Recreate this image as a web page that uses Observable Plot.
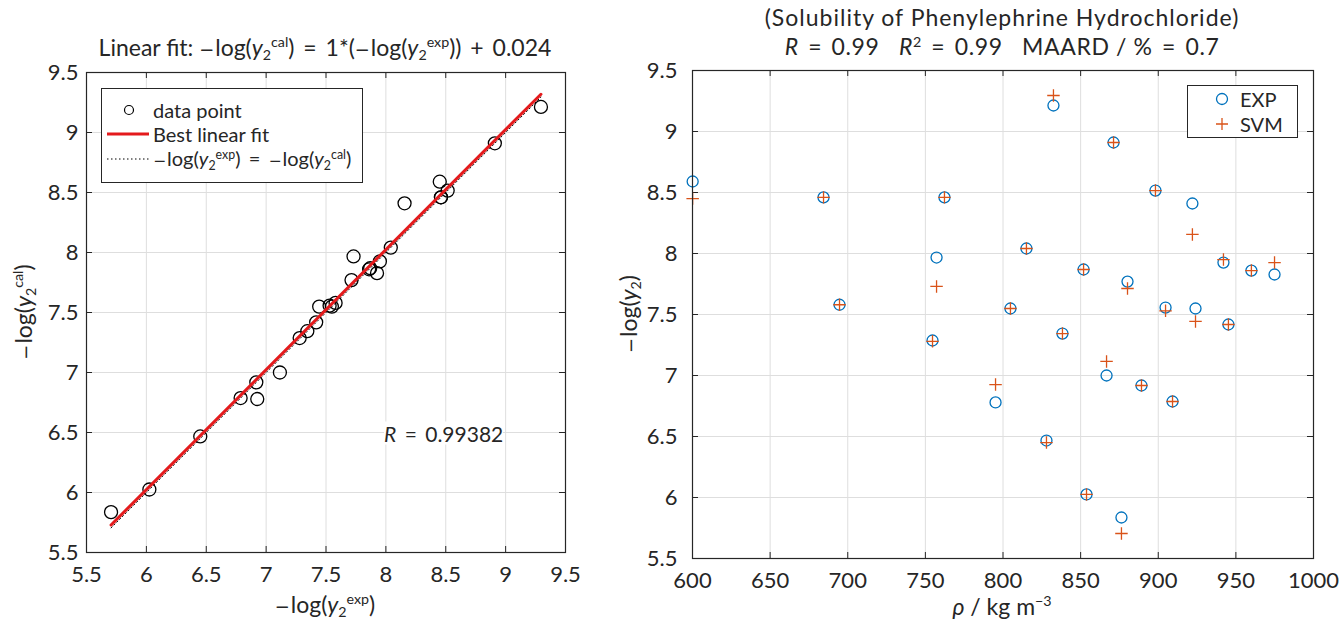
<!DOCTYPE html>
<html><head><meta charset="utf-8">
<script src="https://cdn.jsdelivr.net/npm/d3@7"></script>
<script src="https://cdn.jsdelivr.net/npm/@observablehq/plot@0.6"></script>
<style>
body{margin:0;background:#fff;}
#wrap{position:relative;width:1339px;height:622px;font-family:Lato,"Open Sans",sans-serif;color:#262626;overflow:hidden;}
.plot{position:absolute;top:0;}
.ov{position:absolute;white-space:nowrap;font-size:22px;line-height:1;transform:translate(-50%,-50%);}
.ovl{position:absolute;white-space:nowrap;font-size:21px;line-height:1;transform:translate(0,-50%);}
i{font-style:italic;}
sup{font-size:0.62em;vertical-align:0.6em;line-height:0;}
sub{font-size:0.62em;vertical-align:-0.3em;line-height:0;}
.m{font-family:"DejaVu Sans",sans-serif;font-size:0.78em;margin-right:1px;}
.op{margin:0 3px;}
.leg{position:absolute;background:#fff;border:1px solid #262626;box-sizing:border-box;}
</style></head><body><div id="wrap"></div>
<script>
// ---- data ----
const rho = [600.1, 684.4, 694.7, 754.6, 757.2, 762.3, 795.2, 804.8, 815.1, 828.0, 832.5, 838.3, 851.9, 853.8, 866.7, 871.2, 876.3, 880.2, 889.2, 898.2, 904.7, 909.2, 922.0, 924.0, 942.0, 945.2, 960.0, 974.9];
const expVals = [8.59, 8.46, 7.58, 7.287, 7.967, 8.46, 6.779, 7.549, 8.041, 6.467, 9.213, 7.344, 7.869, 6.025, 7.00, 8.91, 5.836, 7.77, 6.918, 8.516, 7.557, 6.787, 8.41, 7.549, 7.926, 7.418, 7.86, 7.828];
const svmVals = [8.45, 8.46, 7.58, 7.28, 7.73, 8.46, 6.926, 7.549, 8.041, 6.45, 9.295, 7.344, 7.869, 6.025, 7.115, 8.91, 5.705, 7.713, 6.918, 8.516, 7.53, 6.787, 8.156, 7.443, 7.95, 7.418, 7.86, 7.926];
const fitSlope = 1;
const fitIntercept = 0.024;
const ticksLog = [5.5, 6, 6.5, 7, 7.5, 8, 8.5, 9, 9.5];
const ticksRho = [600, 650, 700, 750, 800, 850, 900, 950, 1000];
const Rvalue = "0.99382";

const FONT = 'Lato, "Open Sans", sans-serif';
const INK = "#262626";
const GRID = "#dedede";
const fmt = d => String(d);
const tickLen = 6;
const wrap = document.getElementById("wrap");

function framedTicks(xt, yt, fw, fh) {
  return [
    Plot.tickX(xt, {x: d => d, insetTop: fh - tickLen, stroke: INK}),
    Plot.tickX(xt, {x: d => d, insetBottom: fh - tickLen, stroke: INK}),
    Plot.tickY(yt, {y: d => d, insetRight: fw - tickLen, stroke: INK}),
    Plot.tickY(yt, {y: d => d, insetLeft: fw - tickLen, stroke: INK})
  ];
}

// ---- left: regression plot ----
const L = {w: 600, h: 622, ml: 86, mr: 35, mt: 72, mb: 70};
const fwL = L.w - L.ml - L.mr, fhL = L.h - L.mt - L.mb;
const leftData = svmVals.map((s, i) => ({cal: s, exp: expVals[i]}));
const xr = d3.extent(svmVals);
const fitData = xr.map(x => ({x, fit: fitSlope * x + fitIntercept, ident: x}));

const left = Plot.plot({
  width: L.w, height: L.h,
  marginLeft: L.ml, marginRight: L.mr, marginTop: L.mt, marginBottom: L.mb,
  style: {fontFamily: FONT, fontSize: "22px", color: INK, background: "transparent", overflow: "visible"},
  x: {domain: [5.5, 9.5], label: null},
  y: {domain: [5.5, 9.5], label: null},
  marks: [
    Plot.gridX(ticksLog, {stroke: GRID, strokeOpacity: 1}),
    Plot.gridY(ticksLog, {stroke: GRID, strokeOpacity: 1}),
    Plot.axisX(ticksLog, {tickSize: 0, tickPadding: 14, tickFormat: fmt, label: null, fill: INK}),
    Plot.axisY(ticksLog, {tickSize: 0, tickPadding: 8, tickFormat: fmt, label: null, fill: INK}),
    ...framedTicks(ticksLog, ticksLog, fwL, fhL),
    Plot.dot(leftData, {x: "cal", y: "exp", r: 6.5, stroke: "#000", strokeWidth: 1.3, fill: "none"}),
    Plot.line(fitData, {x: "x", y: "ident", stroke: "#000", strokeWidth: 1, strokeDasharray: "1.5,2.5"}),
    Plot.line(fitData, {x: "x", y: "fit", stroke: "#e41a1c", strokeWidth: 3}),
    Plot.frame({stroke: INK, strokeWidth: 1.2})
  ]
});
left.classList.add("plot");
left.style.left = "0px";
wrap.appendChild(left);

// ---- right: solubility vs density ----
const R = {w: 739, h: 622, ml: 92, mr: 26, mt: 70, mb: 64};
const fwR = R.w - R.ml - R.mr, fhR = R.h - R.mt - R.mb;
const rightData = rho.map((r, i) => ({rho: r, exp: expVals[i], svm: svmVals[i]}));

const right = Plot.plot({
  width: R.w, height: R.h,
  marginLeft: R.ml, marginRight: R.mr, marginTop: R.mt, marginBottom: R.mb,
  style: {fontFamily: FONT, fontSize: "22px", color: INK, background: "transparent", overflow: "visible"},
  x: {domain: [600, 1000], label: null},
  y: {domain: [5.5, 9.5], label: null},
  marks: [
    Plot.gridX(ticksRho, {stroke: GRID, strokeOpacity: 1}),
    Plot.gridY(ticksLog, {stroke: GRID, strokeOpacity: 1}),
    Plot.axisX(ticksRho, {tickSize: 0, tickPadding: 14, tickFormat: fmt, label: null, fill: INK}),
    Plot.axisY(ticksLog, {tickSize: 0, tickPadding: 15, tickFormat: fmt, label: null, fill: INK}),
    ...framedTicks(ticksRho, ticksLog, fwR, fhR),
    Plot.dot(rightData, {x: "rho", y: "exp", r: 5.5, stroke: "#0072bd", strokeWidth: 1.3, fill: "none"}),
    Plot.dot(rightData, {x: "rho", y: "svm", symbol: "plus", r: 4.1, stroke: "#d95319", strokeWidth: 1.3}),
    Plot.frame({stroke: INK, strokeWidth: 1.2})
  ]
});
right.classList.add("plot");
right.style.left = "600px";
wrap.appendChild(right);

// ---- text overlays ----
const M = `<span class="m">−</span>`;
const EQ = `<span class="op">=</span>`;
const PL = `<span class="op">+</span>`;
const y2 = (s) => `<i>y</i><sub>2</sub>${s ? `<sup>${s}</sup>` : ""}`;
function ov(html, cx, cy, cls = "ov", extra = "") {
  const d = document.createElement("div");
  d.className = cls;
  d.style.left = cx + "px"; d.style.top = cy + "px";
  if (extra) d.style.cssText += extra;
  d.innerHTML = html;
  wrap.appendChild(d);
  return d;
}
ov(`Linear fit: ${M}log(${y2("cal")}) ${EQ} 1*(${M}log(${y2("exp")})) ${PL} 0.024`, 325, 47, "ov", "font-size:23px;");
ov(`${M}log(${y2("exp")})`, 325, 604, "ov", "font-size:23px;");
ov(`${M}log(${y2("cal")})`, 23, 312, "ov", "font-size:23px;transform:translate(-50%,-50%) rotate(-90deg);");
ov(`<i>R</i> ${EQ} ${Rvalue}`, 384, 433, "ovl", "background:#fff;padding:1px 0;");
ov(`(Solubility of Phenylephrine Hydrochloride)`, 1002, 18, "ov", "font-size:23px;letter-spacing:1px;line-height:0.85;");
ov(`<i>R</i> ${EQ} 0.99&nbsp;&nbsp; <i>R</i><sup>2</sup> ${EQ} 0.99&nbsp;&nbsp; MAARD / % ${EQ} 0.7`, 1002, 47, "ov", "font-size:23px;letter-spacing:0.6px;line-height:0.85;");
ov(`<i>ρ</i> / kg m<sup>−3</sup>`, 1002, 606, "ov", "font-size:23px;");
ov(`${M}log(${y2("")})`, 628, 314, "ov", "font-size:23px;transform:translate(-50%,-50%) rotate(-90deg);");

// ---- legends ----
function legend(x, y, w, h, rows) {
  const box = document.createElement("div");
  box.className = "leg";
  box.style.cssText += `left:${x}px;top:${y}px;width:${w}px;height:${h}px;`;
  for (const r of rows) {
    const s = document.createElementNS("http://www.w3.org/2000/svg", "svg");
    s.setAttribute("width", 50); s.setAttribute("height", 20);
    s.style.cssText = `position:absolute;left:0;top:${r.cy - 10}px;overflow:visible;`;
    s.innerHTML = r.sym;
    box.appendChild(s);
    const t = document.createElement("div");
    t.className = "ovl";
    t.style.cssText += `left:${r.tx}px;top:${r.cy}px;font-size:20px;`;
    t.innerHTML = r.text;
    box.appendChild(t);
  }
  wrap.appendChild(box);
}
legend(101, 88, 262, 95, [
  {cy: 21, tx: 51, text: "data point", sym: `<circle cx="27" cy="10" r="4.5" fill="none" stroke="#000" stroke-width="1.2"/>`},
  {cy: 45, tx: 51, text: "Best linear fit", sym: `<line x1="5" x2="47" y1="10" y2="10" stroke="#e41a1c" stroke-width="3"/>`},
  {cy: 70, tx: 51, text: `${M}log(${y2("exp")}) ${EQ} ${M}log(${y2("cal")})`, sym: `<line x1="5" x2="47" y1="10" y2="10" stroke="#000" stroke-width="1" stroke-dasharray="1.5,2.5"/>`}
]);
legend(1187, 85, 111, 53, [
  {cy: 13, tx: 52, text: "EXP", sym: `<circle cx="34" cy="10" r="5.5" fill="none" stroke="#0072bd" stroke-width="1.3"/>`},
  {cy: 38, tx: 52, text: "SVM", sym: `<path d="M28,10H40M34,4V16" stroke="#d95319" stroke-width="1.3" fill="none"/>`}
]);
</script>
</body></html>
